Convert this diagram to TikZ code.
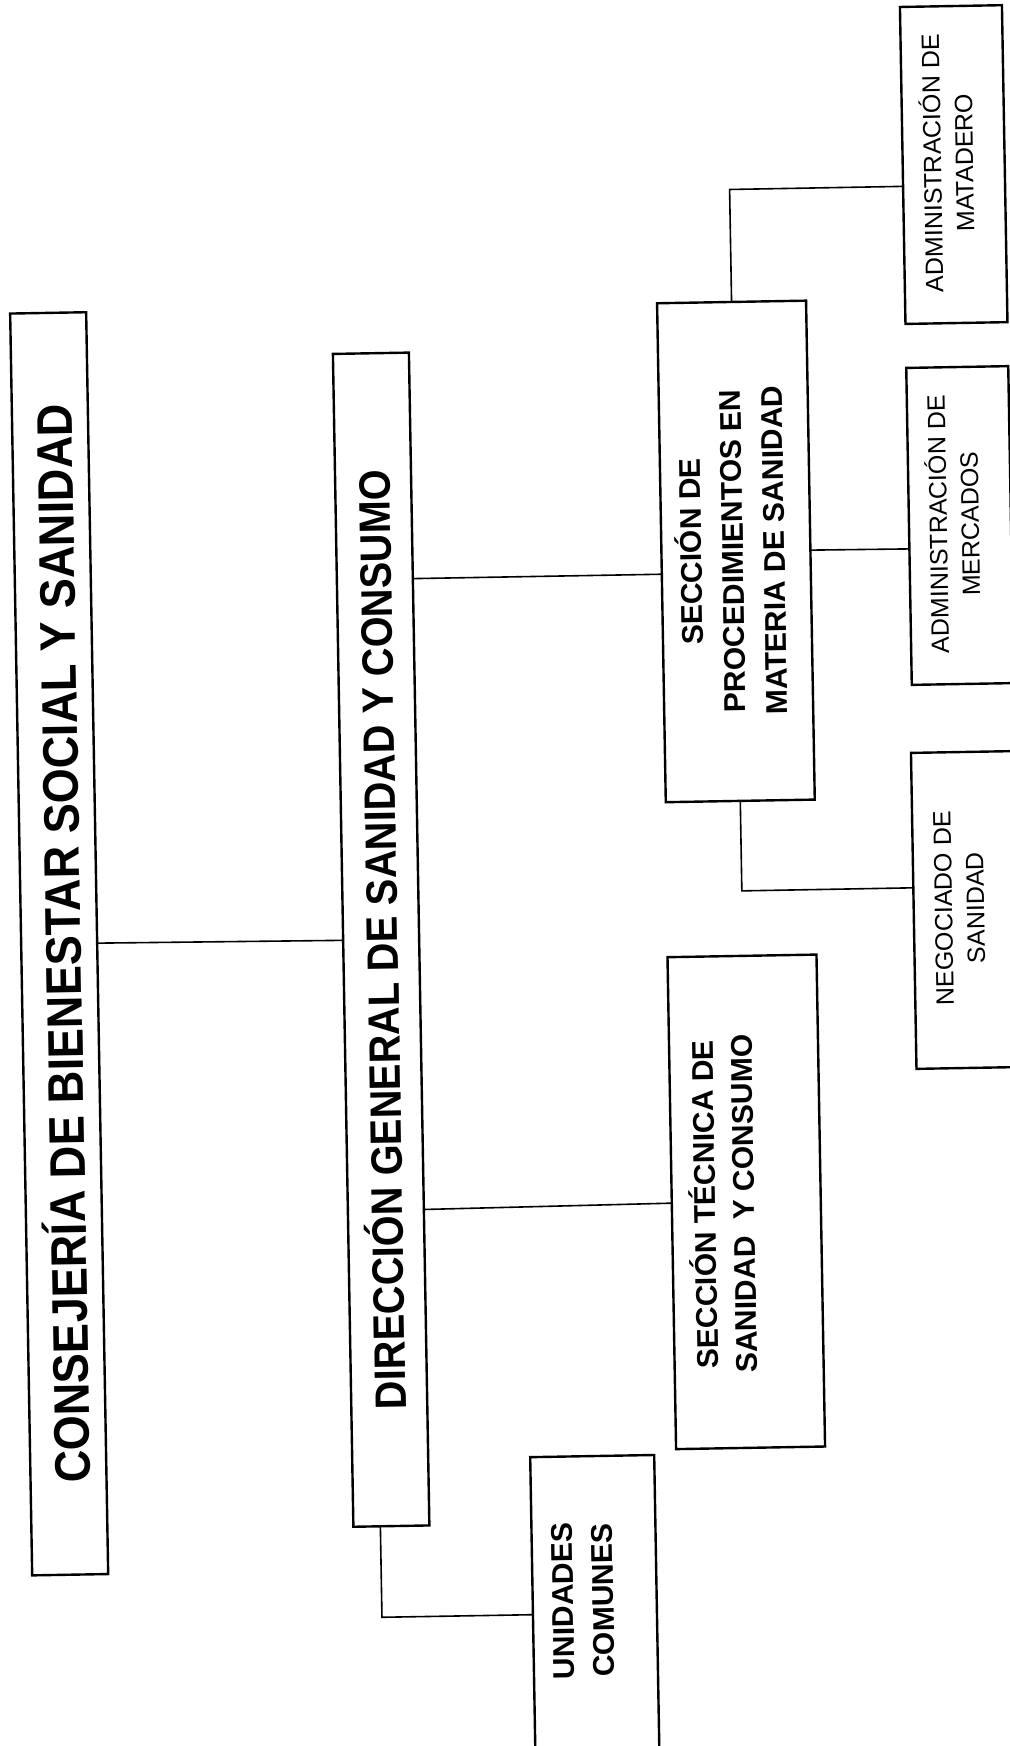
\documentclass[tikz,border=0pt]{standalone}
\usepackage{fontspec}
\setmainfont{Liberation Sans}
\usetikzlibrary{calc}
\begin{document}
\begin{tikzpicture}[x=0.5pt,y=-0.5pt,
  box/.style={draw, line width=1.2pt, inner sep=0pt, outer sep=0pt},
  link/.style={line width=0.8pt},
  lbl/.style={rotate=90, inner sep=0pt, outer sep=0pt, align=center, text depth=0pt},
  bigfont/.style={font=\fontsize{25pt}{30pt}\selectfont\bfseries, text height=17.9pt},
  midfont/.style={font=\fontsize{22pt}{26pt}\selectfont\bfseries, text height=15.75pt},
  procfont/.style={font=\fontsize{15pt}{20.75pt}\selectfont\bfseries, text height=52.24pt},
  tecfont/.style={font=\fontsize{15pt}{19.5pt}\selectfont\bfseries, text height=30.24pt},
  unifont/.style={font=\fontsize{15pt}{20pt}\selectfont\bfseries, text height=30.74pt},
  smallfont/.style={font=\fontsize{12.5pt}{16pt}\selectfont, text height=24.95pt}]
\useasboundingbox (0,0) rectangle (1010,1746);
\fill[white] (0,0) rectangle (1010,1746);
\clip (0,0) rectangle (1010,1746);
\begin{scope}[rotate around={1:(505,873)}, transform shape]
% boxes
\node[box, minimum width=38pt, minimum height=631pt] (cons) at (58,936) {};
\node[box, minimum width=38pt, minimum height=586.5pt] (dir) at (380,937.5) {};
\node[box, minimum width=74.5pt, minimum height=249.5pt] (proc) at (741.5,555.5) {};
\node[box, minimum width=74.5pt, minimum height=246pt] (tec) at (740.5,1206) {};
\node[box, minimum width=62pt, minimum height=171.25pt] (uni) at (582,1628.75) {};
\node[box, minimum width=51pt, minimum height=158.5pt] (mata) at (966,172.5) {};
\node[box, minimum width=51pt, minimum height=158.5pt] (merc) at (966,533.5) {};
\node[box, minimum width=51pt, minimum height=158pt] (nego) at (964,918) {};
% texts
\node[lbl, bigfont] (consT) at (62,936) {\scalebox{0.9}[1]{CONSEJERÍA DE BIENESTAR SOCIAL Y SANIDAD}};
\node[lbl, midfont] (dirT) at (381,937.5) {\scalebox{0.9}[1]{DIRECCIÓN GENERAL DE SANIDAD Y CONSUMO}};
\node[lbl, procfont] (procT) at (738,555) {SECCIÓN DE\\PROCEDIMIENTOS EN\\MATERIA DE SANIDAD};
\node[lbl, tecfont] (tecT) at (718.5,1208) {SECCIÓN TÉCNICA DE\\SANIDAD\ \ Y CONSUMO};
\node[lbl, unifont] (uniT) at (570,1602) {UNIDADES\\COMUNES};
\node[lbl, smallfont] (mataT) at (960.5,171) {ADMINISTRACIÓN DE\\MATADERO};
\node[lbl, smallfont] (mercT) at (960,532) {ADMINISTRACIÓN DE\\MERCADOS};
\node[lbl, smallfont] (negoT) at (958.5,916) {NEGOCIADO DE\\SANIDAD};
% elbow corners
\coordinate (cA) at (741.5,193.5);
\coordinate (cB) at (741.5,895);
\coordinate (cC) at (369,1615);
% connectors
\draw[link] (cons.east) -- (dir.west);
\draw[link] ($(dir.north east)!0.1927!(dir.south east)$) -- ($(proc.north west)!0.5431!(proc.south west)$);
\draw[link] ($(dir.north east)!0.7306!(dir.south east)$) -- (tec.west);
\draw[link] ($(dir.south west)!0.355!(dir.south east)$) -- (cC) -- ($(uni.north west)!0.46!(uni.south west)$);
\draw[link] (proc.east) -- ($(merc.north west)!0.571!(merc.south west)$);
\draw[link] (proc.north) -- (cA) -- ($(mata.north west)!0.566!(mata.south west)$);
\draw[link] (proc.south) -- (cB) -- ($(nego.north west)!0.427!(nego.south west)$);
\end{scope}
\end{tikzpicture}
\end{document}
